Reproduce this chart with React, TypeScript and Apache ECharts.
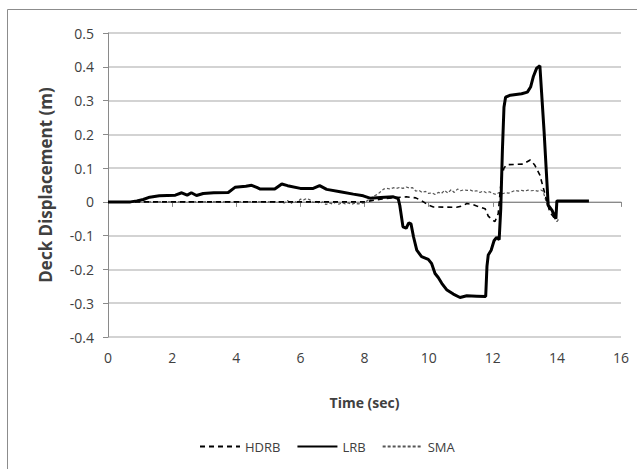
import React, { useEffect, useRef } from "react";
import * as echarts from "echarts";

const seriesNames = ["HDRB", "LRB", "SMA"];
const xTitle = "Time (sec)";
const yTitle = "Deck Displacement (m)";

const hdrbData: [number, number][] = [
  [0, 0], [8.0, 0], [8.5, 0.008], [9.0, 0.013], [9.3, 0.015], [9.6, 0.012], [9.84, 0.0],
  [10.0, -0.01], [10.15, -0.015], [10.87, -0.016], [11.05, -0.012], [11.19, -0.005],
  [11.35, -0.007], [11.5, -0.012], [11.76, -0.02], [11.86, -0.042], [12.0, -0.055],
  [12.07, -0.058], [12.17, -0.035], [12.22, 0.02], [12.28, 0.075], [12.35, 0.1],
  [12.43, 0.11], [12.95, 0.112], [13.17, 0.124], [13.31, 0.109], [13.47, 0.079],
  [13.57, 0.044], [13.68, 0.005], [13.78, -0.03], [13.94, -0.05], [14.02, -0.058],
];

const lrbData: [number, number][] = [
  [0, 0], [0.7, 0], [0.9, 0.003], [1.1, 0.007], [1.3, 0.014], [1.6, 0.018], [2.1, 0.02],
  [2.3, 0.027], [2.47, 0.02], [2.6, 0.027], [2.76, 0.019], [2.97, 0.025], [3.3, 0.027],
  [3.75, 0.028], [3.96, 0.043], [4.3, 0.046], [4.48, 0.049], [4.64, 0.043], [4.75, 0.038],
  [5.2, 0.038], [5.42, 0.053], [5.6, 0.048], [6.0, 0.04], [6.4, 0.04], [6.6, 0.048],
  [6.82, 0.037], [7.24, 0.03], [7.65, 0.023], [7.96, 0.018], [8.17, 0.011], [8.5, 0.013],
  [8.9, 0.015], [9.05, 0.01], [9.1, -0.01], [9.2, -0.074], [9.3, -0.078], [9.38, -0.062],
  [9.45, -0.065], [9.53, -0.104], [9.63, -0.143], [9.78, -0.162], [9.99, -0.17],
  [10.09, -0.182], [10.2, -0.212], [10.3, -0.224], [10.41, -0.241], [10.56, -0.26],
  [10.77, -0.273], [10.98, -0.283], [11.19, -0.278], [11.5, -0.279], [11.78, -0.28],
  [11.82, -0.19], [11.86, -0.157], [11.95, -0.143], [12.04, -0.115], [12.12, -0.105],
  [12.2, -0.112], [12.25, -0.02], [12.3, 0.15], [12.35, 0.28], [12.4, 0.31], [12.55, 0.316],
  [12.9, 0.32], [13.08, 0.325], [13.18, 0.34], [13.27, 0.372], [13.37, 0.396], [13.47, 0.403],
  [13.6, 0.21], [13.73, -0.01], [13.85, -0.025], [13.97, -0.05], [14.0, 0.003], [15.0, 0.003],
];

const smaData: [number, number][] = [
  [0, 0], [5.3, 0], [5.5, -0.003], [5.6, 0.004], [5.7, -0.005], [5.8, 0.002], [5.9, -0.002],
  [6.0, 0.008], [6.1, 0.006], [6.2, 0.01], [6.3, 0.006], [6.4, -0.002], [6.5, 0.002],
  [6.6, -0.004], [6.7, 0.0], [6.8, -0.008], [6.9, -0.003], [7.0, -0.006], [7.1, -0.001],
  [7.2, -0.007], [7.3, -0.002], [7.4, -0.006], [7.5, -0.003], [7.6, -0.007], [7.7, -0.004],
  [7.8, -0.006], [7.9, -0.004], [8.0, -0.003], [8.1, 0.005], [8.2, 0.01], [8.3, 0.018],
  [8.4, 0.022], [8.5, 0.03], [8.6, 0.038], [8.7, 0.04], [8.8, 0.038], [8.9, 0.042],
  [9.0, 0.04], [9.1, 0.043], [9.2, 0.04], [9.3, 0.044], [9.4, 0.041], [9.5, 0.042],
  [9.6, 0.032], [9.7, 0.034], [9.8, 0.028], [9.9, 0.031], [10.0, 0.025], [10.1, 0.027],
  [10.2, 0.022], [10.3, 0.028], [10.4, 0.025], [10.5, 0.034], [10.6, 0.026], [10.7, 0.036],
  [10.8, 0.028], [10.9, 0.038], [11.0, 0.033], [11.1, 0.036], [11.2, 0.034], [11.3, 0.035],
  [11.4, 0.031], [11.5, 0.033], [11.6, 0.028], [11.7, 0.032], [11.8, 0.027], [11.9, 0.03],
  [12.0, 0.025], [12.1, 0.022], [12.2, 0.028], [12.3, 0.024], [12.4, 0.027], [12.5, 0.026],
  [12.6, 0.03], [12.7, 0.034], [12.8, 0.032], [12.9, 0.034], [13.0, 0.032], [13.1, 0.035],
  [13.2, 0.033], [13.3, 0.034], [13.4, 0.032], [13.5, 0.035], [13.57, 0.032], [13.62, 0.015],
  [13.7, -0.01], [13.8, -0.025], [13.9, -0.035], [14.0, -0.048], [14.05, -0.055],
];

const FONT = "Open Sans";
const TEXT = "#404040";
const AXIS = "#8a8a8a";
const GRID = "#c4c4c4";

export default function App() {
  const ref = useRef<HTMLDivElement>(null);
  useEffect(() => {
    if (!ref.current) return;
    const chart = echarts.init(ref.current, undefined, { renderer: "svg" });
    chart.setOption({
      animation: false,
      backgroundColor: "#ffffff",
      textStyle: { fontFamily: FONT },
      graphic: [
        {
          type: "rect",
          shape: { x: 7.5, y: 9.5, width: 700, height: 500 },
          style: { fill: "none", stroke: "#8c8c8c", lineWidth: 1 },
          silent: true,
        },
      ],
      grid: { left: 108, right: 16, top: 33, bottom: 132, containLabel: false },
      legend: {
        left: 194,
        top: 435,
        itemWidth: 40,
        itemHeight: 12,
        itemGap: 16,
        itemStyle: { opacity: 0 },
        textStyle: { fontFamily: FONT, fontSize: 13, color: TEXT },
        data: seriesNames,
      },
      xAxis: [
        {
          type: "value",
          min: 0,
          max: 16,
          interval: 2,
          position: "bottom",
          name: xTitle,
          nameLocation: "middle",
          nameGap: 58,
          nameTextStyle: { fontFamily: FONT, fontSize: 14, fontWeight: "bold", color: TEXT },
          axisLine: { show: false, onZero: false },
          axisTick: { show: false },
          axisLabel: { margin: 13, fontFamily: FONT, fontSize: 14, color: TEXT },
          splitLine: { show: false },
        },
        {
          type: "value",
          min: 0,
          max: 16,
          interval: 2,
          position: "bottom",
          axisLine: { show: true, onZero: true, lineStyle: { color: AXIS, width: 1 } },
          axisTick: { show: true, inside: false, length: 5, lineStyle: { color: AXIS } },
          axisLabel: { show: false },
          splitLine: { show: false },
        },
      ],
      yAxis: {
        type: "value",
        min: -0.4,
        max: 0.5,
        interval: 0.1,
        name: yTitle,
        nameLocation: "middle",
        nameGap: 54,
        nameTextStyle: { fontFamily: FONT, fontSize: 17, fontWeight: "bold", color: TEXT },
        axisLine: { show: true, lineStyle: { color: AXIS, width: 1 } },
        axisTick: { show: true, length: 5, lineStyle: { color: AXIS } },
        axisLabel: {
          margin: 14,
          fontFamily: FONT,
          fontSize: 14,
          color: TEXT,
          formatter: (v: number) => (Math.abs(v) < 1e-9 ? "0" : v.toFixed(1)),
        },
        splitLine: { show: true, lineStyle: { color: GRID, width: 1.5 } },
      },
      series: [
        {
          name: seriesNames[0],
          type: "line",
          xAxisIndex: 0,
          data: hdrbData,
          symbol: "none",
          showSymbol: false,
          lineStyle: { color: "#000000", width: 1.6, type: [5, 4] },
          itemStyle: { color: "#000000" },
          z: 3,
        },
        {
          name: seriesNames[1],
          type: "line",
          xAxisIndex: 0,
          data: lrbData,
          symbol: "none",
          showSymbol: false,
          lineStyle: { color: "#000000", width: 3 },
          itemStyle: { color: "#000000" },
          z: 4,
        },
        {
          name: seriesNames[2],
          type: "line",
          xAxisIndex: 0,
          data: smaData,
          symbol: "none",
          showSymbol: false,
          lineStyle: { color: "#555555", width: 1.2, type: [3, 2] },
          itemStyle: { color: "#555555" },
          z: 2,
        },
      ],
    });
    return () => chart.dispose();
  }, []);
  return (
    <div
      ref={ref}
      style={{ position: "fixed", left: 0, top: 0, width: 637, height: 469, background: "#fff" }}
    />
  );
}
